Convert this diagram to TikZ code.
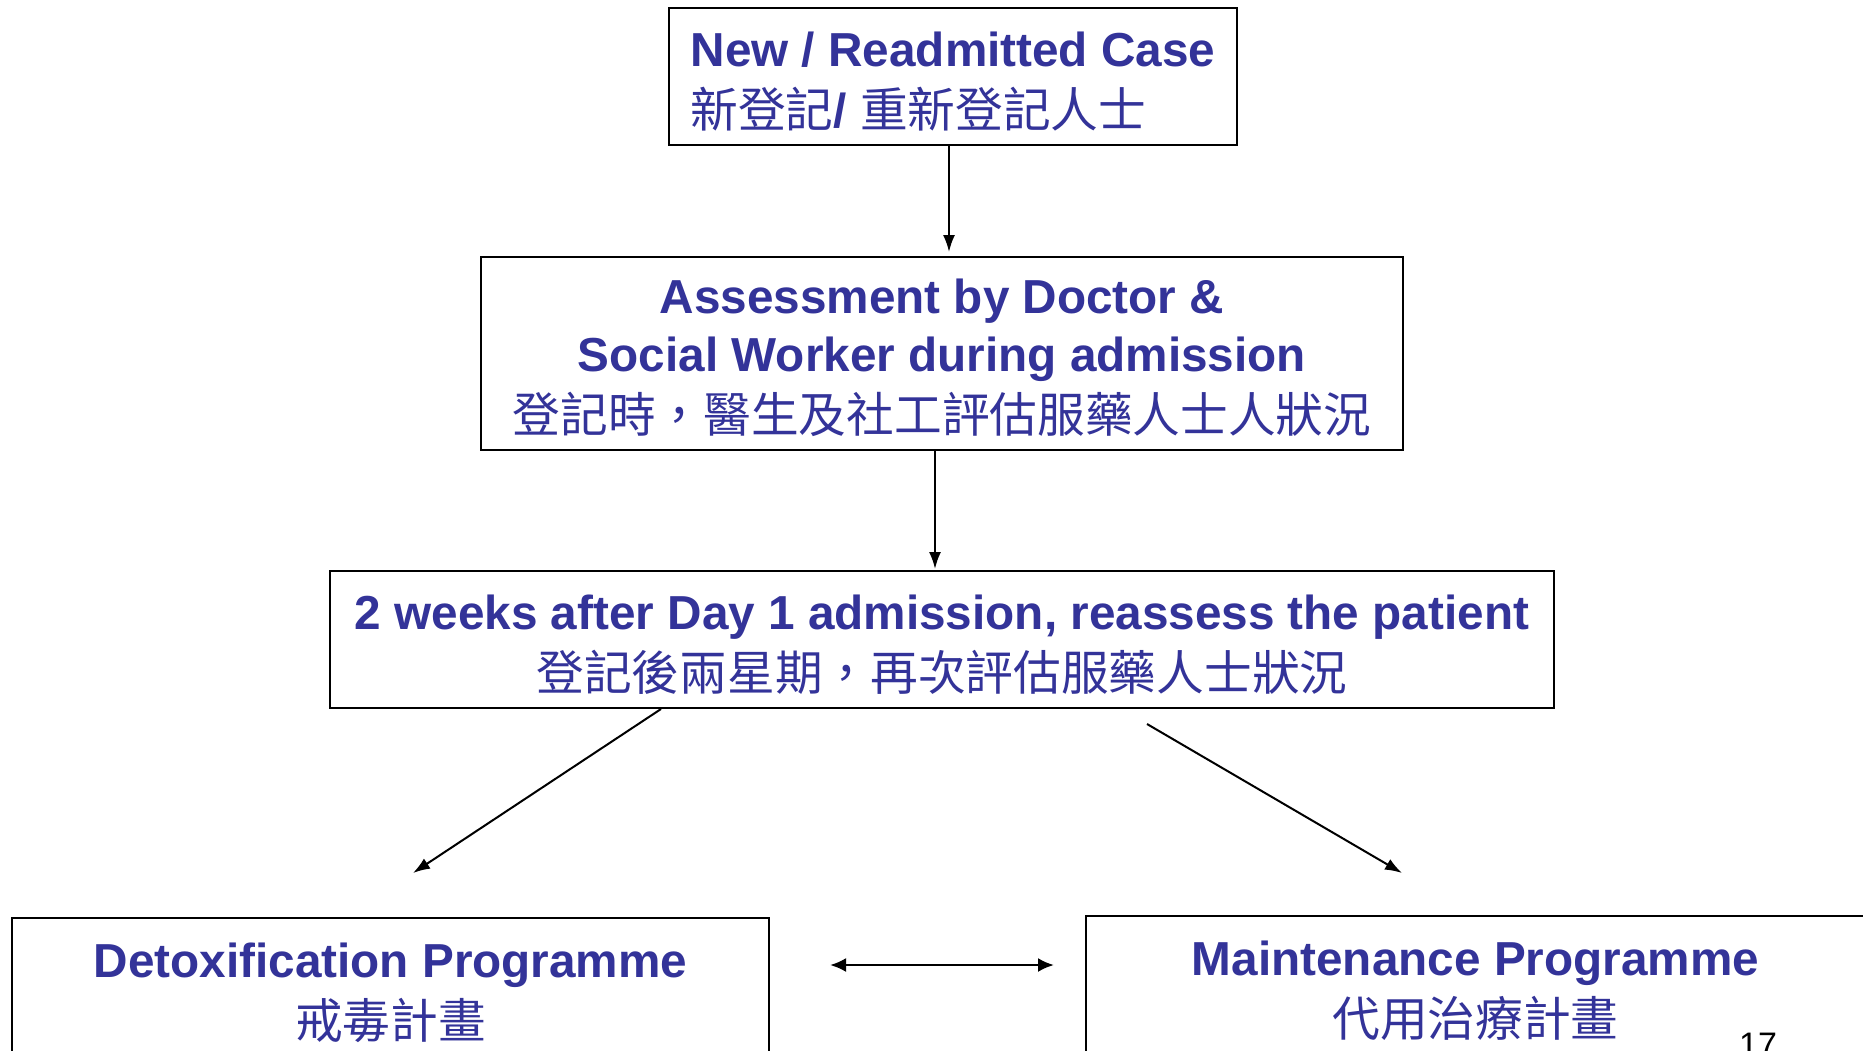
\documentclass[tikz,border=0pt]{standalone}
\usepackage{fontspec}
\setmainfont{Liberation Sans}
\newfontfamily\cjk{Noto Sans CJK TC}
\usetikzlibrary{arrows.meta}
\definecolor{txtblue}{RGB}{51,51,153}
\newcommand{\topstrut}{\rule{0pt}{44pt}}
\begin{document}
\begin{tikzpicture}[x=1pt,y=-1pt,
  box/.style={draw=black,line width=2pt,inner sep=0pt,text=txtblue,
    font=\fontsize{47.7}{58}\selectfont\bfseries},
  conn/.style={line width=2pt,-{Latex[length=17pt,width=12pt]}},
  dconn/.style={line width=2.5pt,{Latex[length=16pt,width=14pt]}-{Latex[length=16pt,width=14pt]}}]
\path[use as bounding box,clip] (0,0) rectangle (1863,1050);
\fill[white] (0,0) rectangle (1863,1050);

\node[box,minimum width=568pt,minimum height=137pt,align=left] (b1) at (953,76.5)
  {\topstrut New / Readmitted Case\\[3pt]{\cjk\mdseries 新登記}/ {\cjk\mdseries 重新登記人士}};
\node[box,minimum width=922pt,minimum height=193pt,align=center] (b2) at (942,353.5)
  {\topstrut Assessment by Doctor \&\\Social Worker during admission\\[3pt]{\cjk\mdseries 登記時，醫生及社工評估服藥人士人狀況}};
\node[box,minimum width=1224pt,minimum height=137pt,align=center] (b3) at (942,639.5)
  {\topstrut 2 weeks after Day 1 admission, reassess the patient\\[3pt]{\cjk\mdseries 登記後兩星期，再次評估服藥人士狀況}};
\node[box,minimum width=757pt,minimum height=141pt,align=center] (b4) at (390.5,988.5)
  {\topstrut Detoxification Programme\\[3pt]{\cjk\mdseries 戒毒計畫}};
\node[box,minimum width=779pt,minimum height=140pt,align=center] (b5) at (1475.5,986)
  {\topstrut Maintenance Programme\\[3pt]{\cjk\mdseries 代用治療計畫}};

\node[anchor=base,text=black,font=\fontsize{34}{40}\selectfont] (pg) at (1758,1056) {17};

\coordinate (dl) at (413,873);
\coordinate (dr) at (1402,873);

\draw[conn,shorten >=4pt] ([xshift=-4pt]b1.south) -- ([xshift=-4pt]b1.south |- b2.north);
\draw[conn,shorten >=1pt] ([xshift=-7pt]b2.south) -- ([xshift=-7pt]b2.south |- b3.north);
\draw[conn] ([xshift=-281pt]b3.south) -- (dl);
\draw[conn] ([xshift=205pt,yshift=-15pt]b3.south) -- (dr);
\draw[dconn] ([xshift=60pt,yshift=23.5pt]b4.east) -- ([xshift=-31pt,yshift=21pt]b5.west);
\end{tikzpicture}
\end{document}
